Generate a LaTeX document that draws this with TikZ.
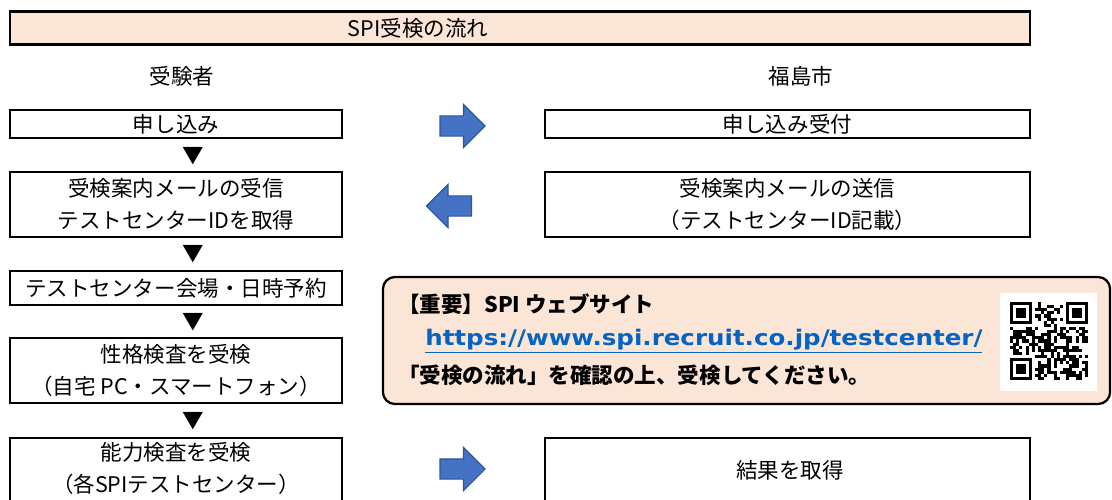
\documentclass[tikz,border=0pt]{standalone}
\usepackage{fontspec}
\setmainfont{Noto Sans CJK JP}
\newfontfamily\linkfont{DejaVu Sans}
\usetikzlibrary{shapes.arrows}
\definecolor{peach}{HTML}{FBE5D6}
\definecolor{officeblue}{HTML}{4472C4}
\definecolor{darkblue}{HTML}{2F5597}
\definecolor{linkblue}{HTML}{0563C1}

\begin{document}
\begin{tikzpicture}
  [x=0.025cm,y=-0.025cm,every node/.style={font=\fontsize{15.3}{22.7}\selectfont,inner sep=0pt},
   stepbox/.style={draw,line width=1.5pt,align=center},
   leftbox/.style={stepbox,minimum width=8.3cm},
   rightbox/.style={stepbox,minimum width=12.125cm},
   blockarrow/.style={single arrow,fill=officeblue,draw=darkblue,line width=0.8pt,
     minimum height=1.125cm,inner xsep=0pt,inner ysep=0.2375cm,single arrow head extend=0.2875cm}]

  \useasboundingbox (0,0) rectangle (1112,500);

  \node[stepbox,fill=peach,minimum width=25.5cm,minimum height=0.825cm] (bar) at (520,28) {};
  \node (title) at (418,28) {SPI受検の流れ};
  \node (head1) at (182,76) {受験者};
  \node (head2) at (801,76) {福島市};

  \node[leftbox,minimum height=0.7cm] (b1) at (176,124) {申し込み};
  \node[leftbox,minimum height=1.625cm] (b2) at (176,204.5) {受検案内メールの受信\\テストセンターIDを取得};
  \node[leftbox,minimum height=0.85cm] (b3) at (176,288) {テストセンター会場・日時予約};
  \node[leftbox,minimum height=1.625cm] (b4) at (176,370.5) {性格検査を受検\\（自宅 PC・スマートフォン）};
  \node[leftbox,minimum height=2cm,anchor=north] (b5) at (176,437) {};
  \node[align=center] (t5) at (176,468) {能力検査を受検\\（各SPIテストセンター）};

  \foreach \y in {156,254,322,421}
    \node (tri\y) at (193,\y) {▼};

  \node[rightbox,minimum height=0.7cm] (r1) at (787.5,124) {申し込み受付};
  \node[rightbox,minimum height=1.625cm] (r2) at (787.5,204.5) {受検案内メールの送信\\（テストセンターID記載）};
  \node[rightbox,minimum height=2cm,anchor=north] (r5) at (787.5,437) {};
  \node (t6) at (790,470) {結果を取得};

  \node[blockarrow] (a1) at (457.5,126) {};
  \node[blockarrow,shape border rotate=180] (a2) at (454,206) {};
  \node[blockarrow] (a3) at (457.5,469) {};

  \node[draw,line width=1.6pt,fill=peach,rounded corners=0.3cm,minimum width=18.175cm,minimum height=3.175cm] (info) at (746.5,340.5) {};
  \node[anchor=west,font=\fontsize{15.3}{22.7}\selectfont\bfseries] (l1) at (398,304) {【重要】SPI ウェブサイト};
  \node[anchor=west,font=\fontsize{15.3}{22.7}\linkfont\bfseries,text=linkblue] (l2) at (425,341)
    {\resizebox{13.925cm}{\height}{\underline{https://www.spi.recruit.co.jp/testcenter/}}};
  \node[anchor=west,font=\fontsize{15.3}{22.7}\selectfont\bfseries] (l3) at (398,375) {「受検の流れ」を確認の上、受検してください。};

  \node[fill=white,minimum width=2.425cm,minimum height=2.45cm] (qr) at (1048.5,342) {};
  \pgfmathsetseed{11}
  \foreach \i in {0,...,24}{
    \foreach \j in {0,...,24}{
      \pgfmathtruncatemacro\bit{(rnd<0.5)*(1-((\i<8)*(\j<8)))*(1-((\i>16)*(\j<8)))*(1-((\i<8)*(\j>16)))}
      \ifnum\bit=1 \fill ({1010+\i*3.12},{302+\j*3.12}) rectangle +(3.12,3.12); \fi
    }
  }
  \foreach \fx/\fy in {0/0,18/0,0/18}{
    \fill ({1010+\fx*3.12},{302+\fy*3.12}) rectangle +(21.84,21.84);
    \fill[white] ({1010+(\fx+1)*3.12},{302+(\fy+1)*3.12}) rectangle +(15.6,15.6);
    \fill ({1010+(\fx+2)*3.12},{302+(\fy+2)*3.12}) rectangle +(9.36,9.36);
  }
\end{tikzpicture}
\end{document}
